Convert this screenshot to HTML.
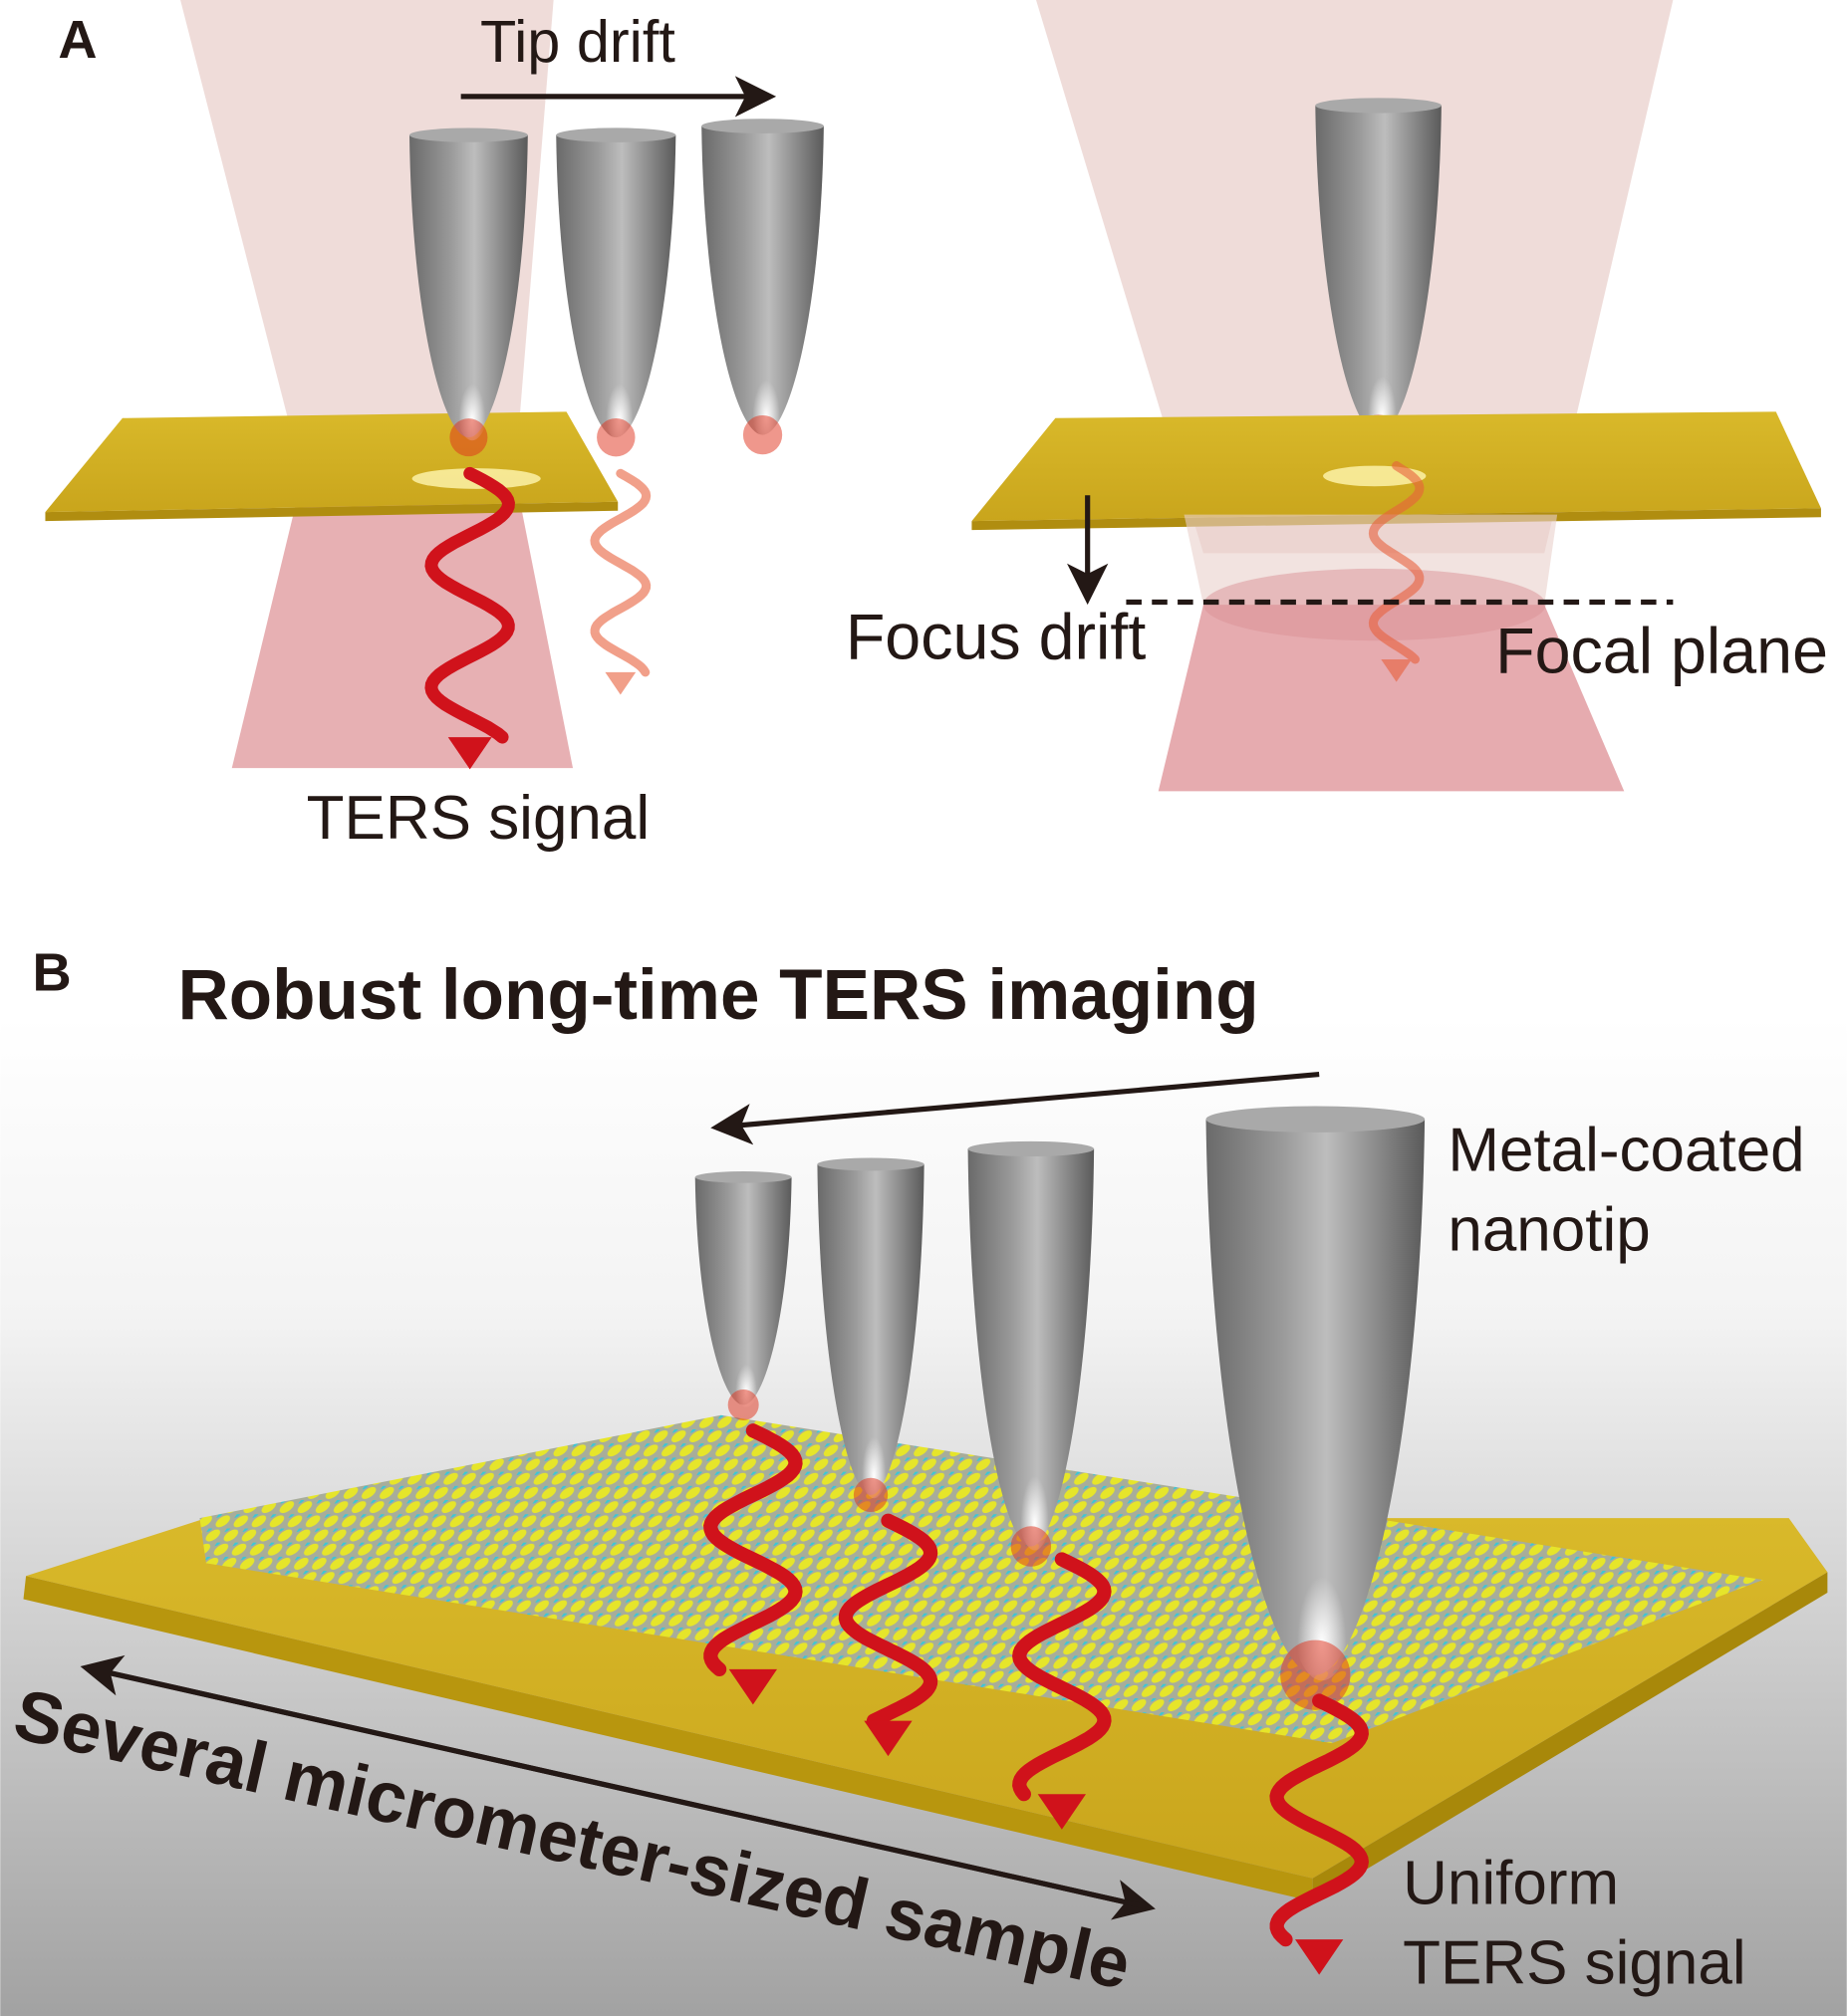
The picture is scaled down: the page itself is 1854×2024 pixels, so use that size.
<!DOCTYPE html>
<html><head><meta charset="utf-8"><style>html,body{margin:0;padding:0;background:#fff}svg{display:block}text{font-family:"Liberation Sans",sans-serif}</style></head>
<body>
<svg id="s" width="1854" height="2024" viewBox="0 0 1435 1567" xmlns="http://www.w3.org/2000/svg">
<defs>
<linearGradient id="bg" x1="0" y1="0" x2="0" y2="1"><stop offset="0" stop-color="#fff"/><stop offset="0.3" stop-color="#f3f3f3"/><stop offset="1" stop-color="#a2a2a2"/></linearGradient>
<linearGradient id="tip" x1="0" y1="0" x2="1" y2="0"><stop offset="0" stop-color="#6a6a6a"/><stop offset="0.35" stop-color="#9a9a9a"/><stop offset="0.55" stop-color="#bdbdbd"/><stop offset="1" stop-color="#5a5a5a"/></linearGradient>
<radialGradient id="hl" cx="0.5" cy="0.8" r="0.35"><stop offset="0" stop-color="#fff" stop-opacity="1"/><stop offset="1" stop-color="#fff" stop-opacity="0"/></radialGradient>
<linearGradient id="gold" x1="0" y1="0" x2="0" y2="1"><stop offset="0" stop-color="#d9b92a"/><stop offset="1" stop-color="#c9a51c"/></linearGradient>
<pattern id="lat" width="14" height="11" patternUnits="userSpaceOnUse" patternTransform="skewX(-35)"><rect width="14" height="11" fill="#a8ad9a"/><circle cx="7" cy="5.5" r="4.6" fill="#e6e52a"/><circle cx="0" cy="0" r="2.8" fill="#3cc6d6"/></pattern>
<marker id="ah" markerWidth="10" markerHeight="10" refX="6" refY="5" orient="auto" markerUnits="strokeWidth"><path d="M0,1 L8,5 L0,9 L2,5 Z" fill="#231815"/></marker>
</defs>
<rect x="0" y="790" width="1435" height="777" fill="url(#bg)"/>
<!-- Panel A left -->
<polygon points="140,0 430,0 400,370 235,370" fill="#ead0cc" opacity="0.75"/>
<polygon points="235,370 400,370 445,597 180,597" fill="#e3a2a6" opacity="0.85"/>
<polygon points="95,325 440,320 480,390 35,398" fill="url(#gold)"/>
<polygon points="35,398 480,390 480,397 35,405" fill="#b08d10"/>
<ellipse cx="370" cy="372" rx="50" ry="8" fill="#fff6b0" opacity="0.8"/>
<g id="tipsA"></g>
<text x="373" y="48" font-size="46" fill="#231815">Tip drift</text>
<line x1="358" y1="75" x2="595" y2="75" stroke="#231815" stroke-width="4" marker-end="url(#ah)"/>
<text x="238" y="652" font-size="48" fill="#231815">TERS signal</text>
<!-- Panel A right -->
<polygon points="805,0 1300,0 1200,430 935,430" fill="#ead0cc" opacity="0.75"/>
<g id="tipsA2"></g>
<polygon points="820,325 1380,320 1415,395 755,405" fill="url(#gold)"/>
<polygon points="755,405 1415,395 1415,402 755,412" fill="#b08d10"/>
<polygon points="920,400 1210,400 1200,470 935,470" fill="#ead0cc" opacity="0.6"/>
<polygon points="935,470 1200,470 1262,615 900,615" fill="#e3a2a6" opacity="0.9"/>
<ellipse cx="1068" cy="470" rx="133" ry="28" fill="#d99196" opacity="0.5"/>
<ellipse cx="1068" cy="370" rx="40" ry="8" fill="#fff6b0" opacity="0.8"/>
<g id="wA2"></g>
<line x1="845" y1="385" x2="845" y2="462" stroke="#231815" stroke-width="4" marker-end="url(#ah)"/>
<line x1="875" y1="468" x2="1300" y2="468" stroke="#231815" stroke-width="4" stroke-dasharray="12,8"/>
<text x="657" y="512" font-size="50" fill="#231815">Focus drift</text>
<text x="1162" y="523" font-size="50" fill="#231815">Focal plane</text>
<text x="45" y="45" font-size="42" font-weight="bold" fill="#231815">A</text>
<!-- Panel B -->
<text x="25" y="770" font-size="42" font-weight="bold" fill="#231815">B</text>
<text x="138" y="792" font-size="55" font-weight="bold" fill="#231815">Robust long-time TERS imaging</text>
<line x1="1025" y1="835" x2="560" y2="876" stroke="#231815" stroke-width="4" marker-end="url(#ah)"/>
<polygon points="20,1225 160,1180 1390,1180 1420,1222 1020,1460" fill="url(#gold)"/>
<polygon points="20,1225 1020,1460 1020,1478 18,1243" fill="#b8960e"/>
<polygon points="1020,1460 1420,1222 1420,1238 1020,1478" fill="#a8880a"/>
<polygon points="155,1180 560,1100 1370,1228 1035,1355 160,1215" fill="url(#lat)"/>
<g id="tipsB"></g>
<text x="1125" y="910" font-size="48" fill="#231815">Metal-coated</text>
<text x="1125" y="972" font-size="48" fill="#231815">nanotip</text>
<text x="1090" y="1480" font-size="48" fill="#231815">Uniform</text>
<text x="1090" y="1542" font-size="48" fill="#231815">TERS signal</text>
<line x1="75" y1="1298" x2="890" y2="1482" stroke="#231815" stroke-width="4" marker-end="url(#ah)"/>
<line x1="890" y1="1482" x2="70" y2="1297" stroke="#231815" stroke-width="4" marker-end="url(#ah)"/>
<text x="0" y="0" font-size="56" font-weight="bold" fill="#231815" transform="translate(8,1350) rotate(12.8)">Several micrometer-sized sample</text>
<g id="waves"></g>
</svg>
<script>
var NS="http://www.w3.org/2000/svg";
function el(t,a,p){var e=document.createElementNS(NS,t);for(var k in a)e.setAttribute(k,a[k]);p.appendChild(e);return e;}
function tip(g,x1,x2,top,bot,op){
 var w=x2-x1,cx=(x1+x2)/2,h=bot-top;
 var d="M"+x1+","+top+" C"+(x1+w*0.02)+","+(top+h*0.6)+" "+(cx-w*0.22)+","+bot+" "+cx+","+bot+" C"+(cx+w*0.22)+","+bot+" "+(x2-w*0.02)+","+(top+h*0.6)+" "+x2+","+top+" Z";
 var gg=el("g",{opacity:op||1},g);
 el("path",{d:d,fill:"url(#tip)"},gg);
 el("ellipse",{cx:cx+w*0.03,cy:bot-h*0.16,rx:w*0.16,ry:h*0.17,fill:"url(#hl)"},gg);
 el("ellipse",{cx:cx,cy:top,rx:w/2,ry:w*0.06,fill:"#a9a9a9"},gg);
 el("circle",{cx:cx,cy:bot,r:Math.max(10,w*0.16),fill:"#e0301a",opacity:0.5},gg);
}
function wave(g,x,y1,y2,amp,per,sw,col,op){
 var d="M"+x+","+y1,n=80,len=y2-y1-sw*2.5;
 for(var i=1;i<=n;i++){var y=y1+len*i/n;d+=" L"+(x+amp*Math.sin(2*Math.PI*(y-y1)/per)).toFixed(1)+","+y.toFixed(1);}
 var gg=el("g",{opacity:op||1},g);
 el("path",{d:d,fill:"none",stroke:col,"stroke-width":sw,"stroke-linecap":"round"},gg);
 var ya=y1+len;el("polygon",{points:(x-sw*1.7)+","+ya+" "+(x+sw*1.7)+","+ya+" "+x+","+y2,fill:col},gg);
}
var A=document.getElementById("tipsA"),A2=document.getElementById("tipsA2"),B=document.getElementById("tipsB"),W=document.getElementById("waves");
tip(A,318,410,105,340);tip(A,432,525,105,340);tip(A,545,640,98,338);tip(A2,1022,1120,82,338);
wave(A,365,368,598,30,95,10,"#d0121b");
wave(A,482,368,540,20,70,7,"#e8603c",0.6);
wave(document.getElementById("wA2"),1085,362,530,18,70,7,"#e8603c",0.6);
tip(B,540,615,915,1092);tip(B,635,718,905,1162);tip(B,752,850,893,1202);tip(B,937,1107,870,1302);
wave(W,585,1112,1325,33,100,11,"#d0121b");
wave(W,690,1182,1365,33,100,11,"#d0121b");
wave(W,825,1212,1422,33,100,11,"#d0121b");
wave(W,1025,1322,1535,33,100,11,"#d0121b");
</script>
</body></html>
